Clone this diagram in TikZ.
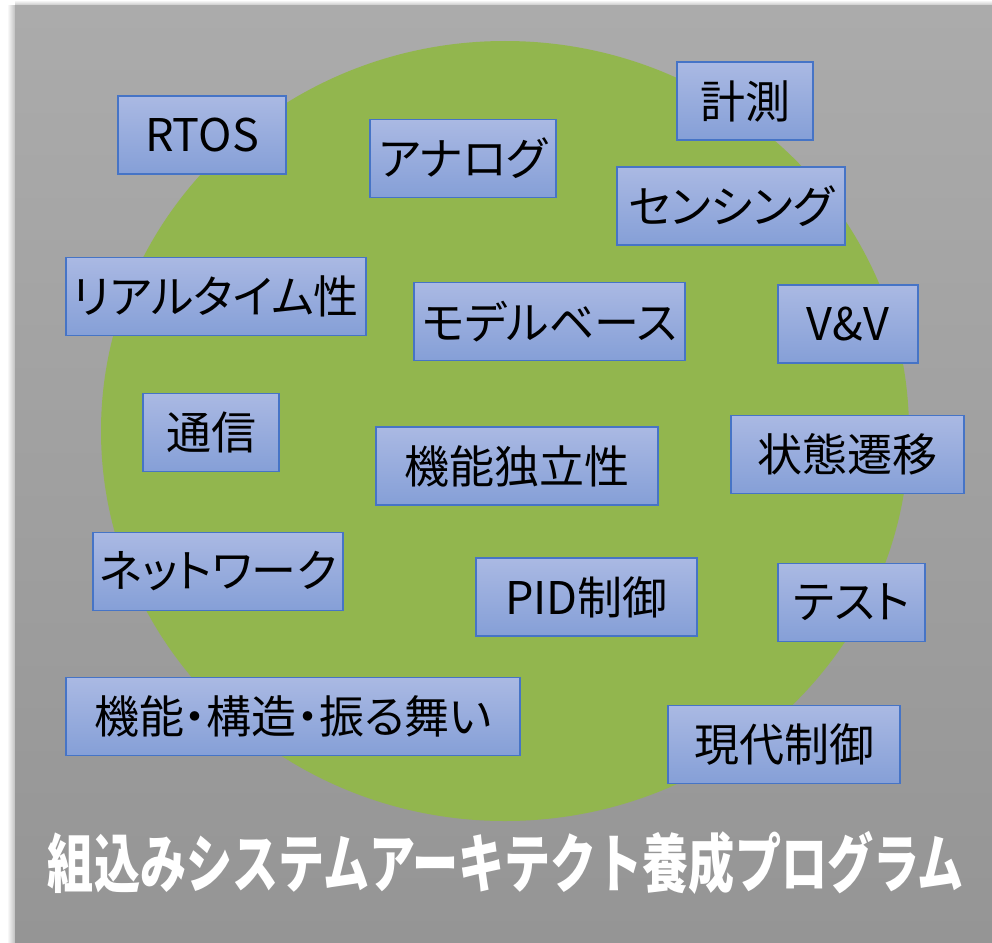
\documentclass[tikz,border=0pt]{standalone}
\usepackage{fontspec}
\usepackage{graphicx}
\newfontfamily\jp[RawFeature=+palt]{Noto Sans CJK JP}
\newfontfamily\jpt{Noto Sans CJK JP}
\definecolor{bgtop}{RGB}{171,171,171}
\definecolor{bgbot}{RGB}{149,149,149}
\definecolor{leaf}{RGB}{146,182,78}
\definecolor{boxtop}{RGB}{170,185,227}
\definecolor{boxbot}{RGB}{133,159,215}
\definecolor{boxline}{RGB}{70,116,198}
\tikzset{
  kw/.style={draw=boxline, line width=1.2pt, top color=boxtop, bottom color=boxbot,
    minimum height=78pt, inner sep=0pt, text=black,
    font=\jp\fontsize{45}{45}\selectfont},
}
\begin{document}
\begin{tikzpicture}[x=1pt,y=-1pt]
\useasboundingbox (0,0) rectangle (992,942);
\fill[white] (0,0) rectangle (992,942);
% soft shadow
\shade[left color=white, right color=black!25] (7,6) rectangle (15,942);
\shade[top color=white, bottom color=black!25] (15,0) rectangle (992,6);
\fill[top color=bgtop, bottom color=bgbot] (15,6) rectangle (992,942);
% green ellipse
\fill[leaf] (505,431) ellipse [x radius=404, y radius=390];
% keyword boxes
\node[kw, minimum width=168pt] (rtos) at (202,135) {RTOS};
\node[kw, minimum width=186pt] (analog) at (463,158.5) {アナログ};
\node[kw, minimum width=136pt] (keisoku) at (745,101) {計測};
\node[kw, minimum width=228pt] (sensing) at (731,206) {センシング};
\node[kw, minimum width=300pt] (realtime) at (216,296.5) {リアルタイム性};
\node[kw, minimum width=271pt] (model) at (549.5,321.5) {モデルベース};
\node[kw, minimum width=140pt] (vv) at (848,324) {V\&V};
\node[kw, minimum width=136pt] (tsushin) at (211,432.5) {通信};
\node[kw, minimum width=282pt] (kinou) at (517,466) {機能独立性};
\node[kw, minimum width=233pt] (jotai) at (847.5,454.5) {状態遷移};
\node[kw, minimum width=250pt] (network) at (218,571.5) {ネットワーク};
\node[kw, minimum width=221pt] (pid) at (586.5,597) {PID制御};
\node[kw, minimum width=147pt] (test) at (851.5,602.5) {テスト};
\node[kw, minimum width=454pt] (kozo) at (293,716.5) {機能・構造・振る舞い};
\node[kw, minimum width=232pt] (gendai) at (784,744.5) {現代制御};
% title
\node[text=white, inner sep=0pt, font=\jpt\bfseries\fontsize{64}{64}\selectfont] (title) at (506,863)
  {\scalebox{0.72}[1]{組込みシステムアーキテクト養成プログラム}};
\end{tikzpicture}
\end{document}
